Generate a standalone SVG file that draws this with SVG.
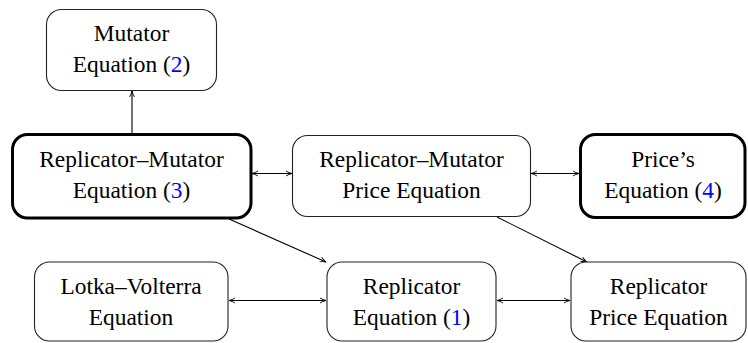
<svg xmlns="http://www.w3.org/2000/svg" width="748" height="343" viewBox="0 0 748 343">
<defs>
<marker id="ah" viewBox="0 0 10 10" refX="9.5" refY="5" markerWidth="7" markerHeight="7" markerUnits="userSpaceOnUse" orient="auto-start-reverse">
<path d="M1,1.5 Q5,4 9.5,5 Q5,6 1,8.5" fill="none" stroke="#000" stroke-width="1.3"/>
</marker>
</defs>
<style>
.box{fill:#fff;stroke:#222;stroke-width:1.1}
.thick{fill:#fff;stroke:#000;stroke-width:3}
.ref{fill:#0000ff}
.c{fill:none;stroke:#000;stroke-width:1.1}
</style>
<g id="connectors">
<line class="c" x1="132" y1="134" x2="132" y2="91" marker-end="url(#ah)"/>
<line class="c" x1="252" y1="173.5" x2="292" y2="173.5" marker-start="url(#ah)" marker-end="url(#ah)"/>
<line class="c" x1="531" y1="173.5" x2="579" y2="173.5" marker-start="url(#ah)" marker-end="url(#ah)"/>
<line class="c" x1="229" y1="219" x2="326" y2="262" marker-end="url(#ah)"/>
<line class="c" x1="497" y1="217" x2="587" y2="262" marker-end="url(#ah)"/>
<line class="c" x1="229" y1="300.5" x2="326" y2="300.5" marker-start="url(#ah)" marker-end="url(#ah)"/>
<line class="c" x1="497" y1="300.5" x2="570" y2="300.5" marker-start="url(#ah)" marker-end="url(#ah)"/>
</g>
<g id="mutator">
<rect class="box" x="46.5" y="9.5" width="170" height="81" rx="15"/>
<text x="131.5" y="41" style="font-family:Liberation Serif,Tinos,Times New Roman,serif;font-size:23.4px;text-anchor:middle">Mutator</text>
<text x="131.5" y="72" style="font-family:Liberation Serif,Tinos,Times New Roman,serif;font-size:23.4px;text-anchor:middle">Equation (<tspan class="ref">2</tspan>)</text>
</g>
<g id="replicator-mutator">
<rect class="thick" x="12.5" y="134.5" width="238.5" height="83.5" rx="15"/>
<text x="131.5" y="167" style="font-family:Liberation Serif,Tinos,Times New Roman,serif;font-size:23.4px;text-anchor:middle">Replicator–Mutator</text>
<text x="131.5" y="198" style="font-family:Liberation Serif,Tinos,Times New Roman,serif;font-size:23.4px;text-anchor:middle">Equation (<tspan class="ref">3</tspan>)</text>
</g>
<g id="rm-price">
<rect class="box" x="292.5" y="135.5" width="238" height="81" rx="15"/>
<text x="411.5" y="167" style="font-family:Liberation Serif,Tinos,Times New Roman,serif;font-size:23.4px;text-anchor:middle">Replicator–Mutator</text>
<text x="411.5" y="198" style="font-family:Liberation Serif,Tinos,Times New Roman,serif;font-size:23.4px;text-anchor:middle">Price Equation</text>
</g>
<g id="price">
<rect class="thick" x="580.5" y="134.5" width="164.5" height="83" rx="15"/>
<text x="663" y="167" style="font-family:Liberation Serif,Tinos,Times New Roman,serif;font-size:23.4px;text-anchor:middle">Price’s</text>
<text x="663" y="198" style="font-family:Liberation Serif,Tinos,Times New Roman,serif;font-size:23.4px;text-anchor:middle">Equation (<tspan class="ref">4</tspan>)</text>
</g>
<g id="lotka-volterra">
<rect class="box" x="34.5" y="262" width="193.5" height="79" rx="15"/>
<text x="131" y="293.5" style="font-family:Liberation Serif,Tinos,Times New Roman,serif;font-size:23.4px;text-anchor:middle">Lotka–Volterra</text>
<text x="131" y="324.5" style="font-family:Liberation Serif,Tinos,Times New Roman,serif;font-size:23.4px;text-anchor:middle">Equation</text>
</g>
<g id="replicator">
<rect class="box" x="327" y="262" width="169" height="79" rx="15"/>
<text x="411.5" y="293.5" style="font-family:Liberation Serif,Tinos,Times New Roman,serif;font-size:23.4px;text-anchor:middle">Replicator</text>
<text x="411.5" y="324.5" style="font-family:Liberation Serif,Tinos,Times New Roman,serif;font-size:23.4px;text-anchor:middle">Equation (<tspan class="ref">1</tspan>)</text>
</g>
<g id="replicator-price">
<rect class="box" x="571" y="262" width="175" height="79" rx="15"/>
<text x="658.5" y="293.5" style="font-family:Liberation Serif,Tinos,Times New Roman,serif;font-size:23.4px;text-anchor:middle">Replicator</text>
<text x="658.5" y="324.5" style="font-family:Liberation Serif,Tinos,Times New Roman,serif;font-size:23.4px;text-anchor:middle">Price Equation</text>
</g>
</svg>
